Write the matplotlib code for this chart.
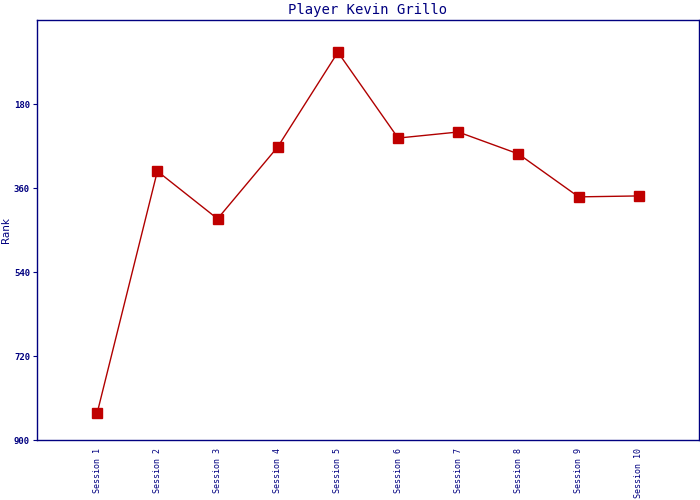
import numpy as np
import matplotlib
matplotlib.use("Agg")
import matplotlib.pyplot as plt

sessions = ["Session %d" % i for i in range(1, 11)]
ranks = [842, 324, 426, 272, 69, 253, 240, 287, 379, 377]
yticks = [180, 360, 540, 720, 900]

navy = "#000080"
red = "#C00000"

fig = plt.figure(figsize=(7, 5), dpi=100)
ax = fig.add_axes([37 / 700, 0.12, 662 / 700, 0.84])

x = np.arange(1, len(sessions) + 1)
ax.plot(x, ranks, color="#B00000", linewidth=1.0, marker="s", markersize=6.8,
        markerfacecolor=red, markeredgecolor=red)

ax.set_xlim(0, 11)
ax.set_ylim(900, 0)
ax.set_yticks(yticks)
ax.set_yticklabels([str(t) for t in yticks], fontsize=6.5, color=navy,
                   family="DejaVu Sans Mono", fontweight="bold")
ax.set_xticks(x)
ax.set_xticklabels(sessions, rotation=90, fontsize=6, color=navy,
                   family="DejaVu Sans Mono")
ax.tick_params(axis="x", length=0, pad=6)
ax.tick_params(axis="y", length=3, color=navy, pad=2)
for s in ax.spines.values():
    s.set_color(navy)
    s.set_linewidth(1)

ax.set_ylabel("Rank", color=navy, fontsize=7.5, labelpad=2)
ax.set_title("Player Kevin Grillo", color=navy, fontsize=10,
             family="DejaVu Sans Mono", pad=4)

fig.savefig("out.png", dpi=100)
